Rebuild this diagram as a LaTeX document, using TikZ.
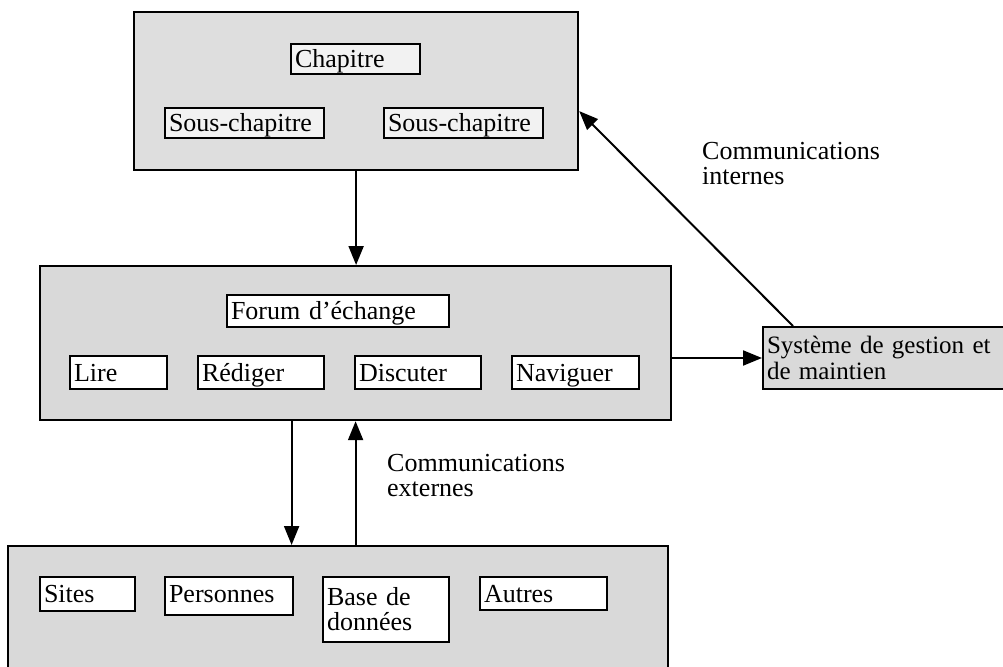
\documentclass[tikz,border=0pt]{standalone}
\usepackage{fontspec}
\setmainfont{Liberation Serif}
\usetikzlibrary{arrows.meta,calc}

\begin{document}
\begin{tikzpicture}[x=1pt,y=-1pt,
  every node/.style={font=\fontsize{26pt}{25pt}\selectfont},
  bloc/.style={draw,line width=2.2pt,fill=black!15,anchor=north west,inner sep=0pt},
  boite/.style={draw,line width=2pt,fill=white,anchor=north west,align=left,inner xsep=4pt,inner ysep=0pt,text width=#1},
  case/.style={boite=#1,text height=22pt,text depth=5pt},
  fleche/.style={line width=2pt,-{Triangle[length=19pt,width=15pt]}}]
\useasboundingbox (0,0) rectangle (1003,666);
\node[bloc,fill=black!13,minimum width=444pt,minimum height=158pt] (chap) at (133,11) {};
\node[bloc,minimum width=631pt,minimum height=154pt] (mid) at (39,265) {};
\node[bloc,minimum width=660pt,minimum height=140pt] (bot) at (7,545) {};
\node[boite=242pt,fill=black!15,minimum height=62pt,font=\fontsize{25pt}{26pt}\selectfont] (sys) at (762,326) {Système de gestion et\\de maintien};
\node[case=121pt,fill=black!5,minimum height=30pt] (chapitre) at (290,43) {Chapitre};
\node[case=151pt,fill=black!5,minimum height=30pt] (souschap1) at (164,107) {Sous-chapitre};
\node[case=151pt,fill=black!5,minimum height=30pt] (souschap2) at (383,107) {Sous-chapitre};
\node[case=214pt,minimum height=32pt] (forum) at (226,294) {Forum d’échange};
\node[case=89pt,minimum height=33pt] (lire) at (69,355) {Lire};
\node[case=118pt,minimum height=33pt] (rediger) at (197,355) {Rédiger};
\node[case=118pt,minimum height=33pt] (discuter) at (354,355) {Discuter};
\node[case=119pt,minimum height=33pt] (naviguer) at (511,355) {Naviguer};
\node[case=87pt,minimum height=34pt] (sites) at (39,576) {Sites};
\node[case=120pt,minimum height=38pt,text depth=9pt] (personnes) at (164,576) {Personnes};
\node[boite=118pt,minimum height=65pt] (base) at (322,576) {Base de\\données};
\node[case=119pt,minimum height=33pt] (autres) at (479,576) {Autres};
\node[anchor=north west,align=left,inner sep=0pt] (cominternes) at (702,142) {Communications\\internes};
\node[anchor=north west,align=left,inner sep=0pt] (comexternes) at (387,454) {Communications\\externes};
\coordinate (descente) at ($(mid.south)+(-64,0)$);
\coordinate (depart) at ($(sys.north west)+(31,0)$);
\coordinate (arrivee) at ($(chap.east)+(0,20)$);
\draw[fleche] (chap.south) -- (chap.south |- mid.north);
\draw[fleche] (descente) -- (descente |- bot.north);
\draw[fleche] (mid.south |- bot.north) -- (mid.south);
\draw[fleche] (mid.east |- sys.west) -- (sys.west);
\draw[fleche] (depart) -- (arrivee);
\end{tikzpicture}
\end{document}
